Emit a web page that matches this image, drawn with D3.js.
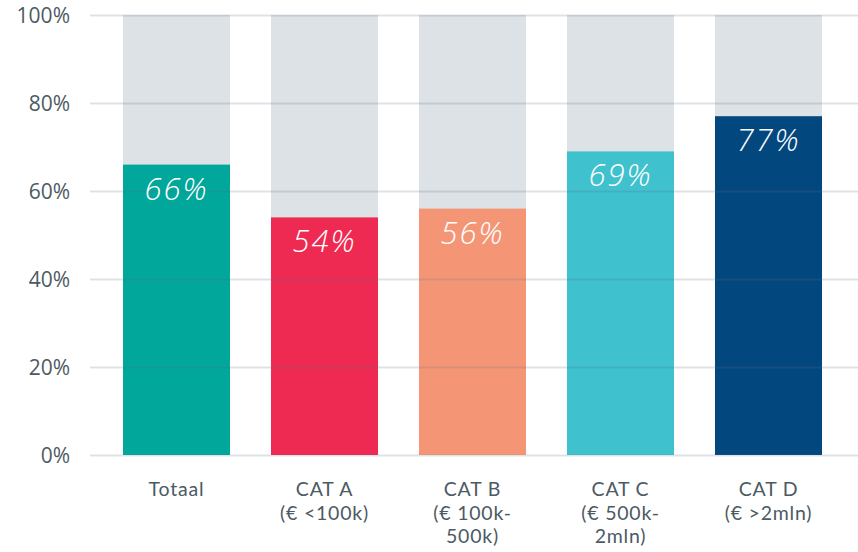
<!DOCTYPE html>
<html>
<head>
<meta charset="utf-8">
<script src="https://cdn.jsdelivr.net/npm/d3@7"></script>
<style>
	body { margin: 0; background: #fff; }
	#chart { width: 858px; height: 552px; }
</style>
</head>
<body>
<div id="chart"></div>
<script>
var categories = ["Totaal", "CAT A", "CAT B", "CAT C", "CAT D"];
var subLabels = [[], ["(€ <100k)"], ["(€ 100k-", "500k)"], ["(€ 500k-", "2mln)"], ["(€ >2mln)"]];
var values = [66, 54, 56, 69, 77];
var colors = ["#00a79a", "#ee2a52", "#f49676", "#3fc1ce", "#03477f"];
var yTicks = [0, 20, 40, 60, 80, 100];

const margin = { top: 15, right: 0, bottom: 97, left: 90 };
const width = 858 - margin.left - margin.right;
const height = 552 - margin.top - margin.bottom;

const xScale = d3.scaleBand()
	.domain(categories)
	.range([0, 765])
	.paddingInner(0.277)
	.paddingOuter(0.223);

const yScale = d3.scaleLinear()
	.domain([0, 100])
	.range([height, 0]);

const svg = d3.select("#chart").append("svg")
	.attr("width", 858)
	.attr("height", 552)
	.append("g")
	.attr("transform", "translate(" + margin.left + "," + margin.top + ")");

// background (100%) bars
svg.selectAll(".bg")
	.data(categories)
	.enter()
	.append("rect")
	.attr("class", "bg")
	.attr("x", d => xScale(d))
	.attr("y", yScale(100))
	.attr("width", xScale.bandwidth())
	.attr("height", yScale(0) - yScale(100))
	.attr("fill", "#dce2e6");

svg.selectAll(".bar")
	.data(values)
	.enter()
	.append("rect")
	.attr("class", "bar")
	.attr("x", (d, i) => xScale(categories[i]))
	.attr("y", d => yScale(d))
	.attr("width", xScale.bandwidth())
	.attr("height", d => yScale(0) - yScale(d))
	.attr("fill", (d, i) => colors[i]);

// gridlines on top, semi transparent
const yAxis = d3.axisLeft(yScale)
	.tickValues(yTicks)
	.tickSize(-width)
	.tickPadding(20)
	.tickFormat(d => d + "%");

const yg = svg.append("g")
	.attr("class", "yaxis")
	.call(yAxis);
yg.select(".domain").remove();
yg.selectAll(".tick line")
	.attr("stroke", "#5a7080")
	.attr("stroke-opacity", 0.2)
	.attr("stroke-width", 2);
yg.selectAll(".tick text")
	.attr("fill", "#4c5a64")
	.attr("font-family", "'Open Sans', sans-serif")
	.attr("font-size", 21)
	.attr("dy", "0.35em");

// value labels
svg.selectAll(".val")
	.data(values)
	.enter()
	.append("text")
	.attr("class", "val")
	.attr("x", (d, i) => xScale(categories[i]) + xScale.bandwidth() / 2)
	.attr("y", d => yScale(d) + 35)
	.attr("text-anchor", "middle")
	.attr("fill", "#fff")
	.attr("font-family", "'Open Sans', sans-serif")
	.attr("font-weight", 300)
	.attr("font-style", "italic")
	.attr("font-size", 31)
	.attr("letter-spacing", 2)
	.text(d => d + "%");

// category labels
const xl = svg.selectAll(".xlab")
	.data(categories)
	.enter()
	.append("text")
	.attr("class", "xlab")
	.attr("x", d => xScale(d) + xScale.bandwidth() / 2)
	.attr("y", height + 41)
	.attr("text-anchor", "middle")
	.attr("fill", "#4c5a64")
	.attr("font-family", "Lato, sans-serif")
	.attr("font-size", 19.5)
	.attr("letter-spacing", 0.8);

xl.each(function(d, i) {
	var t = d3.select(this);
	t.append("tspan").attr("x", xScale(d) + xScale.bandwidth() / 2).text(d);
	subLabels[i].forEach(function(s) {
		t.append("tspan")
			.attr("x", xScale(d) + xScale.bandwidth() / 2)
			.attr("dy", 23.5)
			.text(s);
	});
});
</script>
</body>
</html>
